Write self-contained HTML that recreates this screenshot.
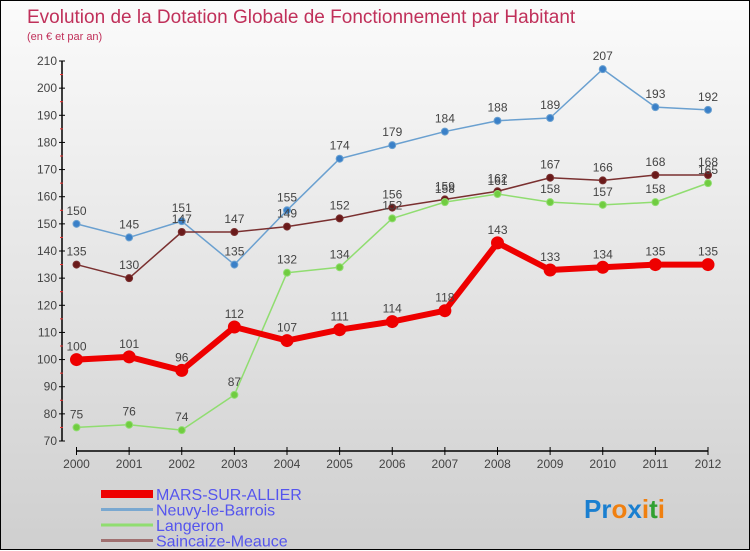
<!DOCTYPE html>
<html><head><meta charset="utf-8"><style>
html,body{margin:0;padding:0}
body{width:750px;height:550px;overflow:hidden;font-family:"Liberation Sans",sans-serif}
#wrap{position:relative;width:748px;height:548px;border:1px solid #000;background:linear-gradient(#fbfbfb,#cfcfcf)}
svg{position:absolute;left:0;top:0}
</style></head><body>
<div id="wrap">
<svg id="chart" width="750" height="550">
<text x="26" y="22" font-size="19" fill="#c0305a">Evolution de la Dotation Globale de Fonctionnement par Habitant</text>
<text x="26" y="39" font-size="11" fill="#c0305a">(en € et par an)</text>
<g id="axes"></g><g id="series"></g><g id="legend"></g>
<text x="583" y="517" font-size="26" font-weight="bold"><tspan fill="#1a7fd0">Pr</tspan><tspan fill="#f08010">o</tspan><tspan fill="#1a7fd0">x</tspan><tspan fill="#f08010">i</tspan><tspan fill="#30a030">t</tspan><tspan fill="#f08010">i</tspan></text>
</svg></div>
<script>
const years=[2000,2001,2002,2003,2004,2005,2006,2007,2008,2009,2010,2011,2012];
const yTicks=[70,80,90,100,110,120,130,140,150,160,170,180,190,200,210];
const mars=[100,101,96,112,107,111,114,118,143,133,134,135,135];
const neuvy=[150,145,151,135,155,174,179,184,188,189,207,193,192];
const langeron=[75,76,74,87,132,134,152,158,161,158,157,158,165];
const saincaize=[135,130,147,147,149,152,156,159,162,167,166,168,168];
const seriesNames=["MARS-SUR-ALLIER","Neuvy-le-Barrois","Langeron","Saincaize-Meauce"];
const NS="http://www.w3.org/2000/svg";
const xS=i=>75.5+i*(707-75.5)/(years.length-1);
const yS=v=>440-(v-70)*(380/140);
function mk(t,a,p){const e=document.createElementNS(NS,t);for(const k in a)e.setAttribute(k,a[k]);p.appendChild(e);return e;}
const ax=document.getElementById('axes');
mk('line',{x1:61,y1:yS(210),x2:61,y2:yS(70),stroke:'#000','stroke-width':1.5},ax);
mk('line',{x1:75.5,y1:450,x2:707,y2:450,stroke:'#000','stroke-width':1.5},ax);
yTicks.forEach((v,k)=>{
 mk('line',{x1:58,y1:yS(v),x2:64,y2:yS(v),stroke:'#000'},ax);
 if(k<yTicks.length-1) mk('line',{x1:59,y1:yS(v+5),x2:62,y2:yS(v+5),stroke:'#e33'},ax);
 const t=mk('text',{x:56,y:yS(v)+4,'font-size':12,fill:'#444','text-anchor':'end'},ax);
 
 
 t.textContent=v;
});
years.forEach((y,i)=>{
 mk('line',{x1:xS(i),y1:446,x2:xS(i),y2:454,stroke:'#000'},ax);
 const t=mk('text',{x:xS(i),y:467,'font-size':12,fill:'#444','text-anchor':'middle'},ax);
 
 
 t.textContent=y;
});
const sg=document.getElementById('series');
function draw(data,color,w,r,dot,name){
 const g=mk('g',{},sg);
 
 
 mk('polyline',{points:data.map((v,i)=>xS(i)+','+yS(v)).join(' '),fill:'none',stroke:color,'stroke-width':w,'stroke-linejoin':'round'},g);
 data.forEach((v,i)=>{
  const c=mk('circle',{cx:xS(i),cy:yS(v),r:r,fill:dot,stroke:color,'stroke-width':1},g);
  
  
  const t=mk('text',{x:xS(i),y:yS(v)-9,'font-size':12,fill:'#444','text-anchor':'middle'},g);
  
  
  t.textContent=v;
 });
}
draw(neuvy,'#6aa0d0',1.5,3.5,'#3a80c8','series-neuvy');
draw(saincaize,'#7a3030',1.5,3.5,'#6a1a1a','series-saincaize');
draw(langeron,'#90dd70',1.5,3.5,'#70cc40','series-langeron');
draw(mars,'#ee0000',6,6,'#ee0000','series-mars');
const lg=document.getElementById('legend');
const lc=['#ee0000','#7aa8d0','#90dd70','#a07070'],lw=[8,3,3,3];
seriesNames.forEach((n,i)=>{
 const y=493+i*15.5;
 const l=mk('line',{x1:100,y1:y,x2:152,y2:y,stroke:lc[i],'stroke-width':lw[i]},lg);
 
 
 const t=mk('text',{x:155,y:y+6,'font-size':16,fill:'#5555ee'},lg);
 
 
 t.textContent=n;
});
</script>
</body></html>
